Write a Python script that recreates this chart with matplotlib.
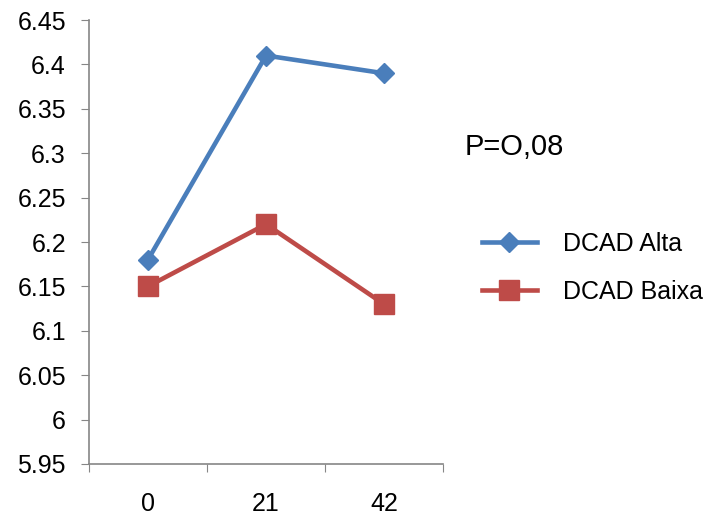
import matplotlib
matplotlib.use("Agg")
import matplotlib.pyplot as plt
from matplotlib.ticker import FixedLocator, NullFormatter

plt.rcParams['font.family'] = ['Liberation Sans', 'DejaVu Sans']

dias = ['0', '21', '42']
alta = [6.18, 6.41, 6.39]
baixa = [6.15, 6.22, 6.13]
yticks = [5.95, 6, 6.05, 6.1, 6.15, 6.2, 6.25, 6.3, 6.35, 6.4, 6.45]

fig = plt.figure(figsize=(7.17, 5.2), dpi=100)
ax = fig.add_axes([0.124, 0.1077, 0.494, 0.8538])

x = range(len(dias))
ax.plot(x, alta, color='#4A7EBB', lw=3.3, marker='D', ms=10.5, label='DCAD Alta')
ax.plot(x, baixa, color='#BE4B48', lw=3.3, marker='s', ms=14, label='DCAD Baixa')

ax.set_xlim(-0.5, 2.5)
ax.set_ylim(5.95, 6.45)
ax.set_yticks(yticks)
ax.set_yticklabels(['%g' % v for v in yticks])

ax.xaxis.set_major_locator(FixedLocator([-0.5, 0.5, 1.5, 2.5]))
ax.xaxis.set_major_formatter(NullFormatter())
ax.xaxis.set_minor_locator(FixedLocator(list(x)))
ax.set_xticklabels(dias, minor=True)
ax.tick_params(axis='x', which='major', length=5.5, color='#868686')
ax.tick_params(axis='x', which='minor', length=0, pad=20, labelsize=18)
ax.tick_params(axis='y', length=5.5, color='#868686', labelsize=18, pad=11)

for s in ['top', 'right']:
    ax.spines[s].set_visible(False)
for s in ['left', 'bottom']:
    ax.spines[s].set_color('#868686')
    ax.spines[s].set_linewidth(1.2)

fig.text(0.648, 0.717, 'P=O,08', fontsize=21, va='center')
fig.legend(loc='center left', bbox_to_anchor=(0.672, 0.4846), frameon=False,
           fontsize=18, handlelength=2.2, handletextpad=1.05,
           labelspacing=0.95, borderpad=0, borderaxespad=0)

fig.savefig('out.png', dpi=100)
